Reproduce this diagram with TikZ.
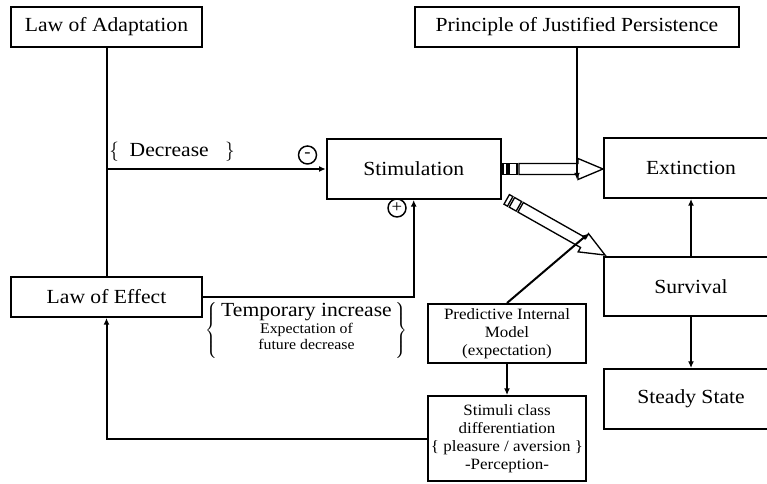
\documentclass[tikz,border=0pt]{standalone}
\usepackage{fontspec}
\setmainfont{Liberation Serif}[FakeStretch=1.08]
\usetikzlibrary{arrows.meta}

% hollow arrow with two stripes at its tail
\newcommand{\stripedarrow}[4]{%
  \begin{scope}[shift={#2}, rotate=#3, line width=1pt]
    \draw (0,-5.5) rectangle (4,5.5);
    \draw (6,-5.5) rectangle (14,5.5);
    \draw (16,-5.5) -- (#4-25,-5.5) -- (#4-25,-10.5) -- (#4,0) -- (#4-25,10.5) -- (#4-25,5.5) -- (16,5.5) -- cycle;
    \coordinate (#1-up) at (#4-25,10.5);
    \coordinate (#1-low) at (#4-25,-10.5);
  \end{scope}}

\begin{document}
\begin{tikzpicture}[x=0.75pt, y=-0.75pt, >={Latex[length=5pt,width=4.5pt]}]
\tikzset{
  box/.style={draw, line width=1.5pt, align=center, inner sep=1pt, font=\fontsize{15}{18}\selectfont},
  smallbox/.style={box, font=\fontsize{11.8}{13.6}\selectfont},
  sign/.style={draw, circle, line width=1.1pt, inner sep=0pt, minimum size=13.5pt, font=\fontsize{13}{13}\selectfont},
  link/.style={line width=1.5pt}
}
\clip (0,0) rectangle (767,484);
\fill[white] (0,0) rectangle (767,484);

\node[box, minimum width=143.25pt, minimum height=30pt] (adapt) at (106.5,27) {Law of Adaptation};
\node[box, minimum width=243pt, minimum height=30pt] (persist) at (577,27) {Principle of Justified Persistence};
\node[box, minimum width=130.5pt, minimum height=45pt] (stim) at (413.7,169) {Stimulation};
\node[box, minimum width=130.5pt, minimum height=45pt] (ext) at (691,168) {Extinction};
\node[box, minimum width=130.5pt, minimum height=44pt] (surv) at (691,286.5) {Survival};
\node[box, minimum width=130.5pt, minimum height=45pt] (steady) at (691,399) {Steady State};
\node[box, minimum width=143.25pt, minimum height=30pt] (effect) at (106.5,297) {Law of Effect};
\node[smallbox, minimum width=118.5pt, minimum height=44.25pt] (pim) at (507,333.5) {Predictive Internal\\Model\\(expectation)};
\node[smallbox, minimum width=118.5pt, minimum height=63.75pt] (classes) at (507,438.5) {Stimuli class\\differentiation\\\{ pleasure / aversion \}\\-Perception-};

\node[anchor=west, inner sep=0pt, font=\fontsize{15}{18}\selectfont] (decr) at (109,152) {$\bigl\{$\ \ Decrease\ \ \ $\bigr\}$};
\node[inner sep=0pt] (tempinc) at (306.5,330) {$\left\{\;\fontsize{15}{16}\selectfont\begin{tabular}{@{}c@{}}Temporary increase\\[-3pt]
  \fontsize{11}{12}\selectfont Expectation of\\[-4pt]\fontsize{11}{12}\selectfont future decrease\end{tabular}\;\right\}$};
\node[sign] (minus) at (307.5,155) {-};
\node[sign] (plus) at (397,208) {+};

\stripedarrow{harr}{(503,169)}{0}{100}
\stripedarrow{darr}{(506.7,199.4)}{-29.5}{113}

\draw[link] (adapt) -- (effect);
\draw[link, ->] (adapt.south |- stim.west) -- (stim.west);
\draw[link, ->] (effect.east) -| (stim.south);
\draw[link, ->] (classes.west) -| (effect.south);
\draw[link, ->] (persist.south) -- (persist.south |- harr-up);
\draw[link, ->] (pim.north) -- (darr-low);
\draw[link, ->] (pim) -- (classes);
\draw[link, ->] (surv) -- (ext);
\draw[link, ->] (surv) -- (steady);
\end{tikzpicture}
\end{document}
